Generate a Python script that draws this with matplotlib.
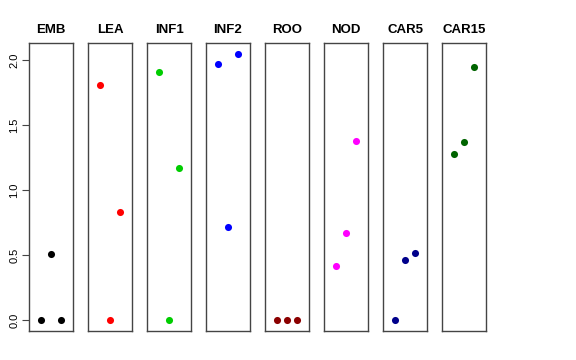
import matplotlib
matplotlib.use("Agg")
import matplotlib.pyplot as plt
import numpy as np

plt.rcParams['font.family'] = ['Liberation Sans', 'DejaVu Sans']

tissues = ["EMB", "LEA", "INF1", "INF2", "ROO", "NOD", "CAR5", "CAR15"]
colors = ["black", "#FF0000", "#00CD00", "#0000FF", "#8B0000", "#FF00FF", "#00008B", "#006400"]
values = [
    [0.00, 0.51, 0.00],
    [1.81, 0.00, 0.83],
    [1.91, 0.00, 1.17],
    [1.97, 0.72, 2.05],
    [0.00, 0.00, 0.00],
    [0.42, 0.67, 1.38],
    [0.00, 0.46, 0.52],
    [1.28, 1.37, 1.95],
]
yticks = [0.0, 0.5, 1.0, 1.5, 2.0]

W, H = 576, 360
fig = plt.figure(figsize=(W / 100, H / 100), dpi=100)

ymax = max(max(v) for v in values)
ylim = (-0.04 * ymax, ymax * 1.04)

for i, (name, col, vals) in enumerate(zip(tissues, colors, values)):
    left = 29 + i * 59
    ax = fig.add_axes([left / W, 29 / H, 44 / W, 288 / H])
    ax.scatter([1, 2, 3], vals, s=26, color=col, zorder=3, linewidths=0)
    ax.set_xlim(-0.16, 4.16)
    ax.set_ylim(ylim)
    ax.set_xticks([])
    for sp in ax.spines.values():
        sp.set_color("#444444")
        sp.set_linewidth(1)
    ax.set_title(name, fontsize=9.5, fontweight="bold", pad=7)
    if i == 0:
        ax.set_yticks(yticks)
        ax.set_yticklabels([f"{t:.1f}" for t in yticks], rotation=90, va="center", fontsize=8)
        ax.tick_params(axis="y", length=5, pad=2, color="#444444")
    else:
        ax.set_yticks([])

fig.savefig("out.png", dpi=100)
